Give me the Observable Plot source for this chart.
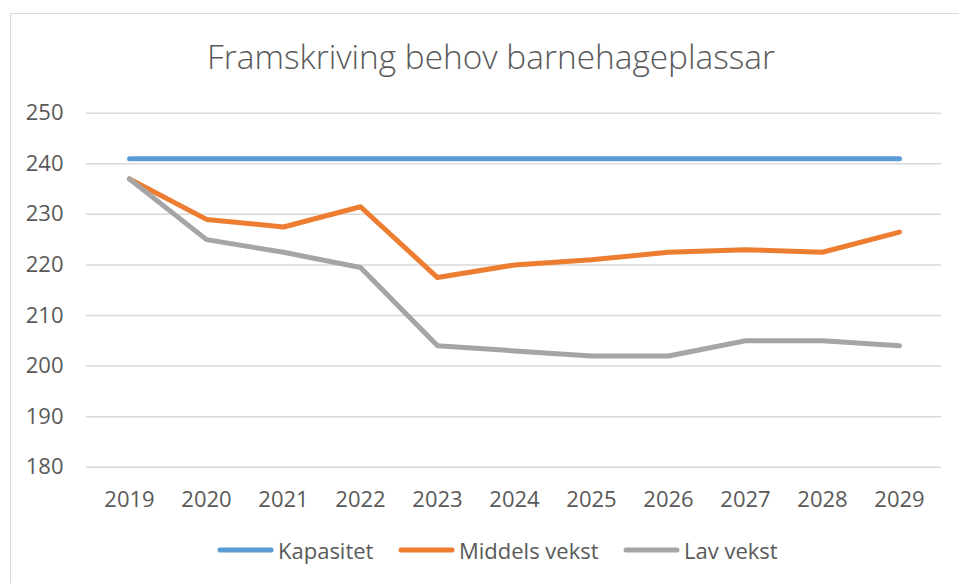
<!DOCTYPE html>
<html>
<head>
<meta charset="utf-8">
<script src="https://cdn.jsdelivr.net/npm/d3@7"></script>
<script src="https://cdn.jsdelivr.net/npm/@observablehq/plot@0.6"></script>
<style>
  html, body { margin: 0; padding: 0; background: #fff; }
  #wrap { position: relative; width: 959px; height: 583px; overflow: hidden; font-family: "Open Sans", sans-serif; color: #595959; }
  #frame { position: absolute; left: 10px; top: 13px; width: 1000px; height: 700px; border-left: 1.5px solid #D9D9D9; border-top: 1.5px solid #D9D9D9; box-sizing: border-box; }
  #chart { position: absolute; left: 0; top: 0; }
  #title { position: absolute; left: 10px; width: 962px; top: 39.5px; text-align: center; font-size: 33.4px; line-height: 33.4px; font-weight: 300; white-space: nowrap; }
  .leg { position: absolute; top: 538px; height: 24px; display: flex; align-items: center; font-size: 22px; line-height: 22px; white-space: nowrap; }
  .leg svg { margin-right: 4px; }
</style>
</head>
<body>
<div id="wrap">
  <div id="frame"></div>
  <div id="chart"></div>
  <div id="title">Framskriving behov barnehageplassar</div>
  <div id="legend"></div>
</div>
<script>
const years = [2019, 2020, 2021, 2022, 2023, 2024, 2025, 2026, 2027, 2028, 2029];
const kapasitet = [241, 241, 241, 241, 241, 241, 241, 241, 241, 241, 241];
const middelsVekst = [237, 229, 227.5, 231.5, 217.5, 220, 221, 222.5, 223, 222.5, 226.5];
const lavVekst = [237, 225, 222.5, 219.5, 204, 203, 202, 202, 205, 205, 204];
const yTicks = [180, 190, 200, 210, 220, 230, 240, 250];
const seriesNames = ["Kapasitet", "Middels vekst", "Lav vekst"];
const seriesColors = ["#5B9BD5", "#ED7D31", "#A5A5A5"];

const seriesValues = [kapasitet, middelsVekst, lavVekst];
const rows = seriesNames.flatMap((name, i) =>
  years.map((year, j) => ({ series: name, year, value: seriesValues[i][j] }))
);

const chart = Plot.plot({
  width: 959,
  height: 583,
  marginLeft: 86,
  marginRight: 18,
  marginTop: 112.7,
  marginBottom: 116.3,
  style: { fontFamily: "'Open Sans', sans-serif", fontSize: "22px", color: "#595959", background: "transparent" },
  x: { type: "point", domain: years, padding: 0.5 },
  y: { domain: [180, 250] },
  color: { domain: seriesNames, range: seriesColors },
  marks: [
    Plot.gridY(yTicks, { stroke: "#D9D9D9", strokeOpacity: 1, strokeWidth: 1.5 }),
    Plot.axisY({ ticks: yTicks, tickSize: 0, tickPadding: 23, label: null, fill: "#595959", fontSize: 22 }),
    Plot.axisX({ tickSize: 0, tickPadding: 24, label: null, fill: "#595959", fontSize: 22, tickFormat: d => String(d) }),
    Plot.line(rows, { x: "year", y: "value", z: "series", stroke: "series", strokeWidth: 5, strokeLinecap: "round", strokeLinejoin: "round" })
  ]
});
document.getElementById("chart").appendChild(chart);

// legend
const legendX = [217, 398, 623];
const legend = document.getElementById("legend");
seriesNames.forEach((name, i) => {
  const item = document.createElement("div");
  item.className = "leg";
  item.style.left = legendX[i] + "px";
  item.innerHTML = `<svg width="57" height="8"><line x1="3" y1="4" x2="54" y2="4" stroke="${seriesColors[i]}" stroke-width="5" stroke-linecap="round"/></svg><span>${name}</span>`;
  legend.appendChild(item);
});
</script>
</body>
</html>
